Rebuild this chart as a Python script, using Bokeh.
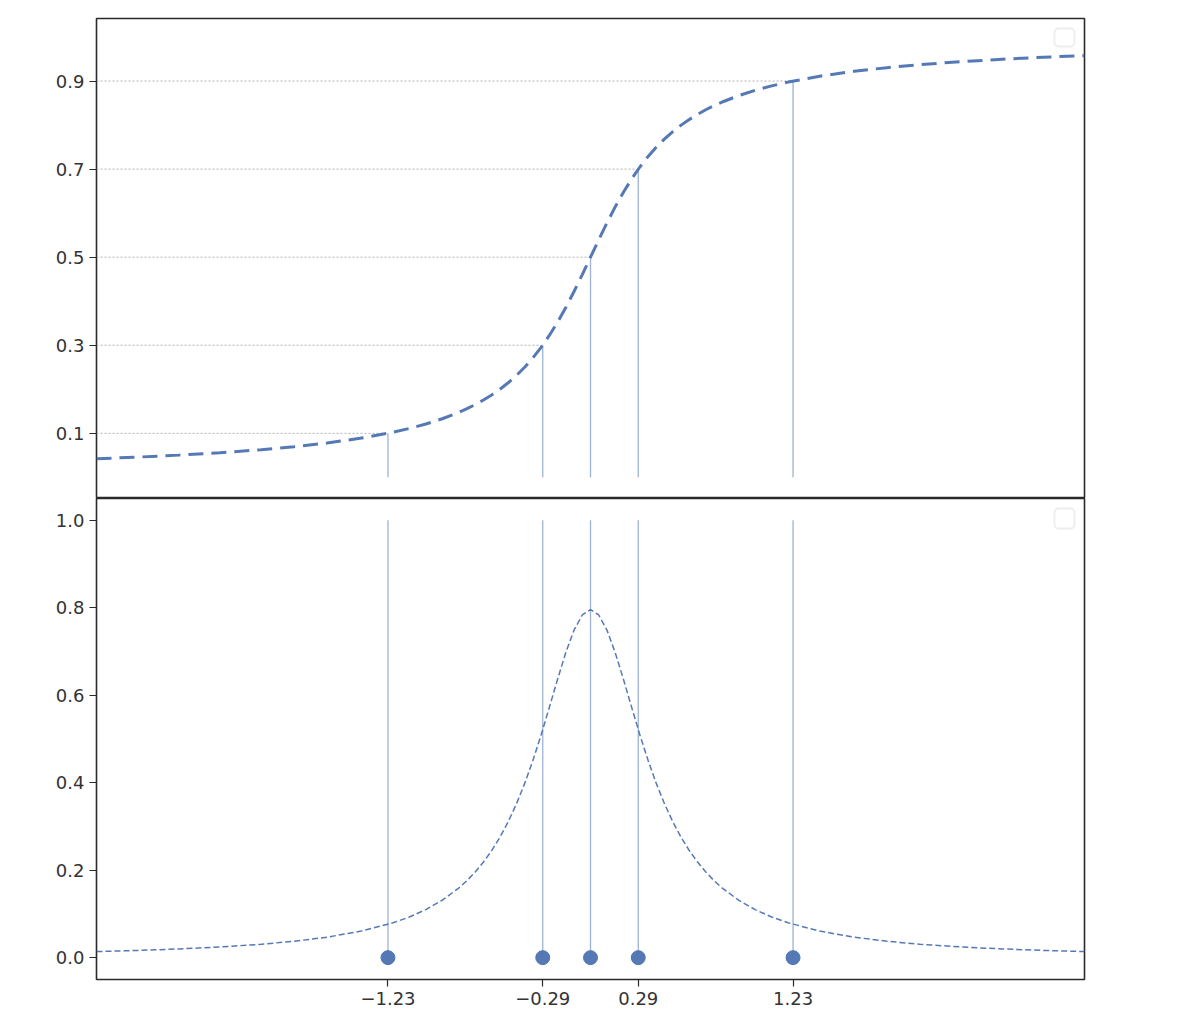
from bokeh.plotting import figure
from bokeh.layouts import column
from bokeh.models import Range1d, FixedTicker, PrintfTickFormatter, BoxAnnotation
from bokeh.embed import file_html
from bokeh.resources import INLINE

# ---- data ----
x_vals = [-3.0, -2.75, -2.5, -2.25, -2.0, -1.8, -1.6, -1.4, -1.2, -1.1, -1.0, -0.9, -0.8, -0.75,
          -0.7, -0.65, -0.6, -0.55, -0.5, -0.45, -0.4, -0.35, -0.3, -0.25, -0.2, -0.15, -0.1,
          -0.05, 0.0, 0.05, 0.1, 0.15, 0.2, 0.25, 0.3, 0.35, 0.4, 0.45, 0.5, 0.55, 0.6, 0.65,
          0.7, 0.75, 0.8, 0.9, 1.0, 1.1, 1.2, 1.4, 1.6, 1.8, 2.0, 2.25, 2.5, 2.75, 3.0]
cdf_vals = [0.0422, 0.0460, 0.0505, 0.0560, 0.0628, 0.0696, 0.0780, 0.0886, 0.1024, 0.1110,
            0.1211, 0.1331, 0.1476, 0.1560, 0.1652, 0.1757, 0.1872, 0.2001, 0.2148, 0.2313,
            0.25, 0.2712, 0.2952, 0.3222, 0.3524, 0.3858, 0.4220, 0.4604, 0.5,
            0.5396, 0.5780, 0.6142, 0.6476, 0.6778, 0.7048, 0.7288, 0.75, 0.7687, 0.7852,
            0.7999, 0.8128, 0.8243, 0.8348, 0.8440, 0.8524, 0.8669, 0.8789, 0.8890, 0.8976,
            0.9114, 0.9220, 0.9304, 0.9372, 0.9440, 0.9495, 0.9540, 0.9578]
pdf_vals = [0.0139, 0.0165, 0.0199, 0.0244, 0.0306, 0.0375, 0.0468, 0.0601, 0.0796, 0.0929,
            0.1098, 0.1313, 0.1592, 0.1762, 0.1959, 0.2186, 0.2449, 0.2753, 0.3106, 0.3513,
            0.3979, 0.4507, 0.5093, 0.5723, 0.6366, 0.6977, 0.7490, 0.7836, 0.7958,
            0.7836, 0.7490, 0.6977, 0.6366, 0.5723, 0.5093, 0.4507, 0.3979, 0.3513, 0.3106,
            0.2753, 0.2449, 0.2186, 0.1959, 0.1762, 0.1592, 0.1313, 0.1098, 0.0929, 0.0796,
            0.0601, 0.0468, 0.0375, 0.0306, 0.0244, 0.0199, 0.0165, 0.0139]
quantile_x = [-1.23, -0.29, 0.0, 0.29, 1.23]
quantile_p = [0.1, 0.3, 0.5, 0.7, 0.9]
dot_y = [0.0, 0.0, 0.0, 0.0, 0.0]
stem_top = [1.0, 1.0, 1.0, 1.0, 1.0]
x_tick_vals = [-1.23, -0.29, 0.29, 1.23]
x_tick_labels = ["\u22121.23", "\u22120.29", "0.29", "1.23"]
top_y_ticks = [0.1, 0.3, 0.5, 0.7, 0.9]
bottom_y_ticks = [0.0, 0.2, 0.4, 0.6, 0.8, 1.0]

BLUE = "#4c72b0"
FONT = "DejaVu Sans"
TXT = "#333333"

X0, X1 = -3.0, 3.0
xr = Range1d(X0, X1)


def style(p):
    p.outline_line_color = "#2a2a2a"
    p.outline_line_width = 1.6
    p.xgrid.visible = False
    p.ygrid.visible = False
    for ax in p.axis:
        ax.axis_line_color = None
        ax.major_tick_out = 7
        ax.major_tick_in = 0
        ax.major_tick_line_color = "#2a2a2a"
        ax.major_tick_line_width = 1.2
        ax.minor_tick_line_color = None
        ax.major_label_text_font = FONT
        ax.major_label_text_font_size = "18px"
        ax.major_label_text_color = TXT
        ax.major_label_standoff = 5


W = 1094
p1 = figure(width=W, height=498, x_range=xr, y_range=Range1d(-0.048, 1.042),
            min_border_left=96, min_border_right=10, min_border_top=18, min_border_bottom=0,
            x_axis_location=None, output_backend="svg", toolbar_location=None)
p1.yaxis.ticker = FixedTicker(ticks=top_y_ticks)
style(p1)

# dotted reference lines from left edge to each quantile
p1.segment(x0=[X0] * len(quantile_x), y0=quantile_p, x1=quantile_x, y1=quantile_p,
           line_color="#a8a8a8", line_width=0.9, line_dash="2 2")
# vertical stems
p1.segment(x0=quantile_x, y0=dot_y, x1=quantile_x, y1=quantile_p,
           line_color=BLUE, line_alpha=0.55, line_width=1.3)
p1.line(x_vals, cdf_vals, line_color=BLUE, line_width=3, line_dash="15 8", line_alpha=0.95)
p1.add_layout(BoxAnnotation(left=1054, right=1074, top=28, bottom=46,
                            left_units="canvas", right_units="canvas",
                            top_units="canvas", bottom_units="canvas",
                            fill_color="white", fill_alpha=1.0,
                            line_color="#c4c4c4", line_width=1.8, border_radius=4))

p2 = figure(width=W, height=522, x_range=xr, y_range=Range1d(-0.05, 1.05),
            min_border_left=96, min_border_right=10, min_border_top=0, min_border_bottom=41,
            output_backend="svg", toolbar_location=None)
p2.yaxis.ticker = FixedTicker(ticks=bottom_y_ticks)
p2.yaxis.formatter = PrintfTickFormatter(format="%.1f")
p2.xaxis.ticker = FixedTicker(ticks=x_tick_vals)
p2.xaxis.major_label_overrides = {v: s for v, s in zip(x_tick_vals, x_tick_labels)}
style(p2)

p2.segment(x0=quantile_x, y0=dot_y, x1=quantile_x, y1=stem_top,
           line_color=BLUE, line_alpha=0.55, line_width=1.3)
p2.line(x_vals, pdf_vals, line_color=BLUE, line_width=1.5, line_dash="6 3", line_alpha=0.95)
p2.scatter(quantile_x, dot_y, size=14, color=BLUE, alpha=0.95)
p2.add_layout(BoxAnnotation(left=1054, right=1074, top=10, bottom=30,
                            left_units="canvas", right_units="canvas",
                            top_units="canvas", bottom_units="canvas",
                            fill_color="white", fill_alpha=1.0,
                            line_color="#c4c4c4", line_width=1.8, border_radius=4))

layout = column(p1, p2)
open("out.html", "w").write(file_html(layout, INLINE))
